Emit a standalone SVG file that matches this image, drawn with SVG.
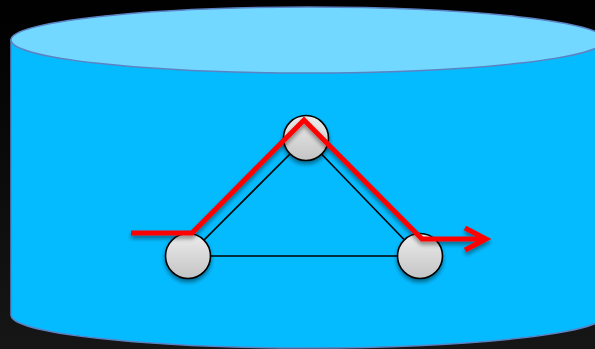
<svg xmlns="http://www.w3.org/2000/svg" width="595" height="349" viewBox="0 0 595 349">
<defs>
<linearGradient id="bg" x1="0" y1="0" x2="0" y2="1">
<stop offset="0" stop-color="#000000"/>
<stop offset="1" stop-color="#161616"/>
</linearGradient>
<linearGradient id="ball" x1="0" y1="0" x2="0" y2="1">
<stop offset="0" stop-color="#ececec"/>
<stop offset="1" stop-color="#c4c4c4"/>
</linearGradient>
<filter id="sh" x="-30%" y="-30%" width="160%" height="160%">
<feGaussianBlur in="SourceAlpha" stdDeviation="2"/>
<feOffset dx="0" dy="3" result="b"/>
<feComponentTransfer><feFuncA type="linear" slope="0.45"/></feComponentTransfer>
<feMerge><feMergeNode/><feMergeNode in="SourceGraphic"/></feMerge>
</filter>
</defs>
<style>
.cyl{stroke:#5b83c4;stroke-width:1.5}
.node{fill:url(#ball);stroke:#000;stroke-width:1.6}
.edge{stroke:#000;stroke-width:1.6;fill:none}
.red{stroke:#ff0000;stroke-width:5;fill:none;stroke-linejoin:miter;stroke-linecap:butt}
</style>
<rect width="595" height="349" fill="url(#bg)"/>
<g id="cylinder">
<path class="cyl" fill="#05bbff" d="M11,40 L11,315 A297,33 0 0 0 605,315 L605,40 Z"/>
<ellipse class="cyl" fill="#72d8ff" cx="308" cy="40" rx="297" ry="33"/>
</g>
<g id="connectors">
<line class="edge" x1="188" y1="256" x2="306" y2="138"/>
<line class="edge" x1="306" y1="138" x2="420" y2="256"/>
<line class="edge" x1="188" y1="256" x2="420" y2="256"/>
</g>
<g id="node-left" filter="url(#sh)"><circle class="node" cx="188" cy="256" r="22.5"/></g>
<g id="node-top" filter="url(#sh)"><circle class="node" cx="306" cy="138" r="22.5"/></g>
<g id="node-right" filter="url(#sh)"><circle class="node" cx="420" cy="256" r="22.5"/></g>
<g id="path" filter="url(#sh)">
<polyline class="red" points="131,233 192,233 304,120 422,239 484,239"/>
<polyline class="red" stroke-linecap="round" points="465,228 486,239 465,250"/>
</g>
</svg>
